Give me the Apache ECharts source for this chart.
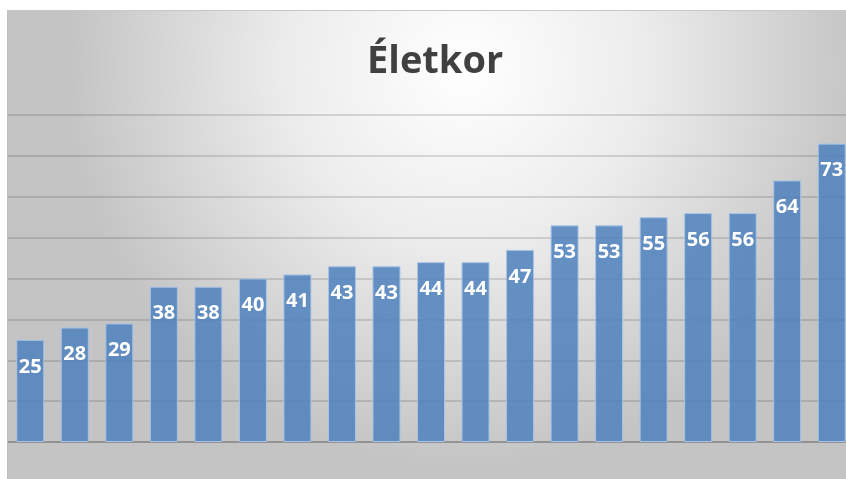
<!DOCTYPE html>
<html>
<head>
<meta charset="utf-8">
<script src="https://cdn.jsdelivr.net/npm/echarts@6/dist/echarts.min.js"></script>
<style>
  html, body { margin: 0; padding: 0; background: #fff; overflow: hidden; }
  #chart { position: absolute; left: 7px; top: 10px; width: 847px; height: 469px; border-top: 1px solid #c8c8c8; border-left: 1px solid #c0c0c0; box-sizing: border-box; }
</style>
</head>
<body>
<div id="chart"></div>
<script>
// adatok
const titleText = 'Életkor'
const categories = ['1', '2', '3', '4', '5', '6', '7', '8', '9', '10', '11', '12', '13', '14', '15', '16', '17', '18', '19']
const ages = [25, 28, 29, 38, 38, 40, 41, 43, 43, 44, 44, 47, 53, 53, 55, 56, 56, 64, 73]
const yMax = 80
const yStep = 10

const chart = echarts.init(document.getElementById('chart'))
const option = {
  backgroundColor: {
    type: 'radial',
    x: 0.54,
    y: 0.12,
    r: 0.85,
    colorStops: [
      { offset: 0, color: '#ffffff' },
      { offset: 0.45, color: '#ececec' },
      { offset: 1, color: '#c4c4c4' }
    ]
  },
  animation: false,
  title: {
    text: titleText,
    left: 354,
    top: 27,
    textStyle: {
      fontFamily: 'Open Sans',
      fontWeight: 'bold',
      fontSize: 38,
      color: '#404040'
    }
  },
  grid: {
    left: 0,
    right: 0,
    top: 104,
    bottom: 37
  },
  xAxis: {
    type: 'category',
    data: categories,
    axisTick: { show: false },
    axisLabel: { show: false },
    axisLine: { lineStyle: { color: '#8a8a8a', width: 1.5 } }
  },
  yAxis: {
    type: 'value',
    min: 0,
    max: yMax,
    interval: yStep,
    axisLabel: { show: false },
    axisLine: { show: false },
    splitLine: { lineStyle: { color: 'rgba(0,0,0,0.17)', width: 1.5 } }
  },
  series: [{
    type: 'bar',
    data: ages,
    barWidth: 28,
    itemStyle: {
      color: 'rgba(79,129,189,0.86)',
      borderColor: '#a8c4e6',
      borderWidth: 1
    },
    label: {
      show: true,
      position: 'insideTop',
      distance: 17,
      color: '#ffffff',
      fontFamily: 'Open Sans',
      fontWeight: 'bold',
      fontSize: 20
    }
  }]
}
chart.setOption(option)
</script>
</body>
</html>
